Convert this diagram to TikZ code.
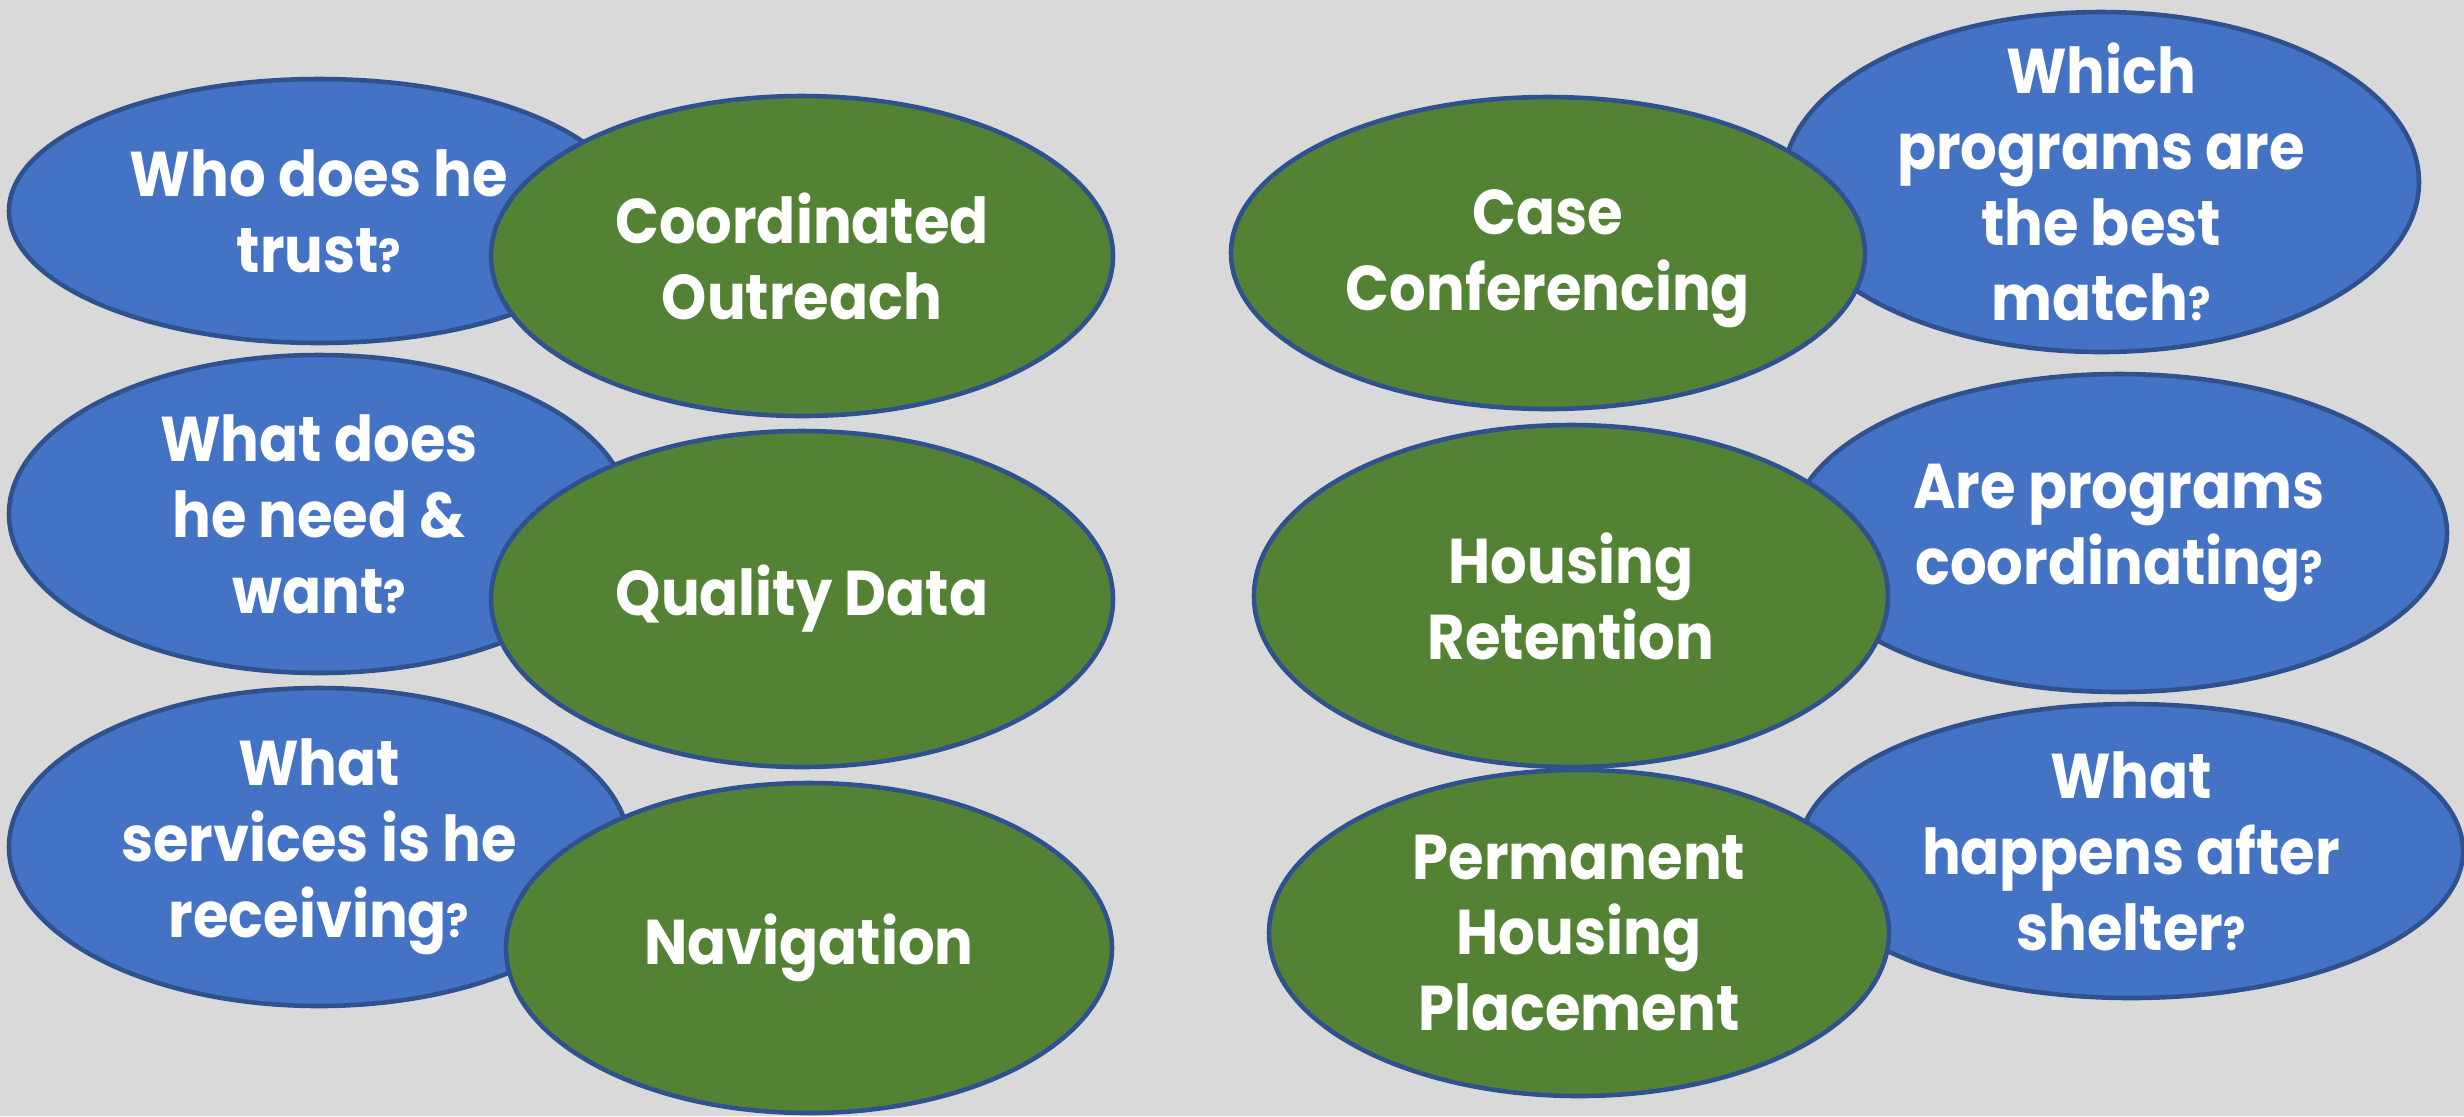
\documentclass[tikz,border=0pt]{standalone}
\usepackage{fontspec}
\setmainfont{Poppins}[BoldFont={Poppins Bold}, FakeStretch=0.91]
\definecolor{PanelGray}{HTML}{D9D9D9}
\definecolor{AskBlue}{HTML}{4472C4}
\definecolor{StepGreen}{HTML}{548235}
\definecolor{EdgeBlue}{HTML}{2F528F}
\usetikzlibrary{shapes.geometric}
\tikzset{
  bubble/.style={ellipse, draw=EdgeBlue, line width=1.3pt, inner sep=0pt},
  askbubble/.style={bubble, fill=AskBlue},
  stepbubble/.style={bubble, fill=StepGreen},
  caption/.style={text=white, align=center, font=\fontsize{18}{21.6}\selectfont\bfseries}
}
\newcommand{\qmark}{{\fontsize{13}{13}\selectfont ?}}

\begin{document}
\begin{tikzpicture}
\fill[PanelGray] (0,0) rectangle (24.64,-11.16);
\useasboundingbox (0,0) rectangle (24.64,-11.16);

% left column: question first, step on top
\node[askbubble, minimum width=6.20cm, minimum height=2.64cm] (q1) at (3.19,-2.11) {};
\node[stepbubble, minimum width=6.22cm, minimum height=3.20cm] (s1) at (8.02,-2.56) {};
\node[askbubble, minimum width=6.20cm, minimum height=3.18cm] (q2) at (3.19,-5.14) {};
\node[stepbubble, minimum width=6.22cm, minimum height=3.36cm] (s2) at (8.02,-5.99) {};
\node[askbubble, minimum width=6.20cm, minimum height=3.18cm] (q3) at (3.19,-8.47) {};
\node[stepbubble, minimum width=6.06cm, minimum height=3.30cm] (s3) at (8.09,-9.48) {};

% right column
\node[askbubble, minimum width=6.36cm, minimum height=3.40cm] (q4) at (21.01,-1.82) {};
\node[stepbubble, minimum width=6.34cm, minimum height=3.12cm] (s4) at (15.48,-2.53) {};
\node[askbubble, minimum width=6.56cm, minimum height=3.18cm] (q5) at (21.19,-5.33) {};
\node[stepbubble, minimum width=6.34cm, minimum height=3.42cm] (s5) at (15.71,-5.96) {};
\node[askbubble, minimum width=6.64cm, minimum height=2.94cm] (q6) at (21.31,-8.51) {};
\node[stepbubble, minimum width=6.20cm, minimum height=3.26cm] (s6) at (15.79,-9.33) {};

% captions above every bubble
\node[caption] (q1t) at (q1) {Who does he\\trust\qmark};
\node[caption] (s1t) at (s1) {Coordinated\\Outreach};
\node[caption] (q2t) at (q2) {What does\\he need \&\\want\qmark};
\node[caption] (s2t) at (s2) {Quality Data};
\node[caption] (q3t) at (q3) {What\\services is he\\receiving\qmark};
\node[caption] (s3t) at (s3) {Navigation};
\node[caption] (q4t) at (q4) {Which\\programs are\\the best\\match\qmark};
\node[caption] (s4t) at ([yshift=-0.06cm]s4) {Case\\Conferencing};
\node[caption] (q5t) at (q5) {Are programs\\coordinating\qmark};
\node[caption] (s5t) at (s5) {Housing\\Retention};
\node[caption] (q6t) at (q6) {What\\happens after\\shelter\qmark};
\node[caption] (s6t) at (s6) {Permanent\\Housing\\Placement};
\end{tikzpicture}
\end{document}
